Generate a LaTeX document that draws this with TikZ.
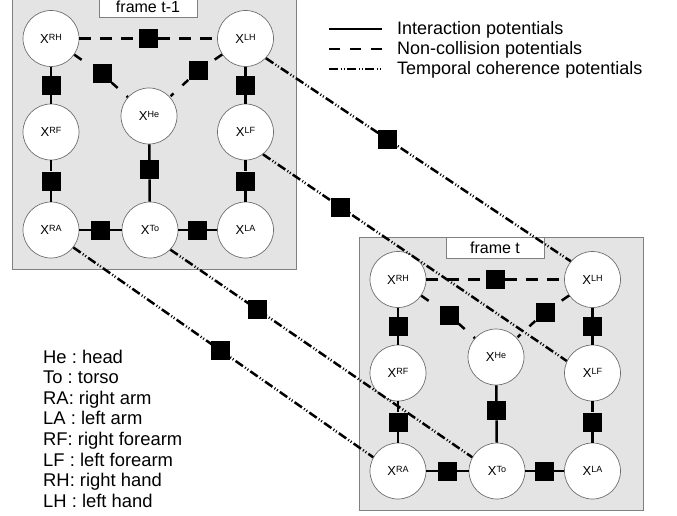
\documentclass[tikz,border=0pt]{standalone}
\usepackage{fontspec}
\setmainfont{Liberation Sans}
\usetikzlibrary{calc}
\definecolor{framefill}{HTML}{E4E4E4}
\definecolor{framedraw}{HTML}{808080}
\definecolor{varedge}{HTML}{6E6E6E}
\tikzset{
  var/.style={circle,draw=varedge,line width=0.7pt,fill=white,minimum size=56pt,
              inner sep=0pt,font=\fontsize{13}{14}\selectfont},
  factor/.style={rectangle,fill=black,minimum size=19pt,inner sep=0pt},
  framebox/.style={draw=framedraw,fill=framefill,line width=1pt},
  framelbl/.style={draw=framedraw,fill=white,line width=0.8pt,minimum width=98pt,
                   minimum height=21pt,inner sep=0pt,font=\fontsize{16}{17}\selectfont},
  inter/.style={line width=2.5pt},
  noncoll/.style={line width=2.5pt,dash pattern=on 12pt off 9pt},
  temporal/.style={line width=2.5pt,dash pattern=on 9pt off 2.5pt on 1pt off 2pt on 1pt off 2.5pt},
  stubout/.style={inter,dash pattern=on 9pt off 40pt},
  stubin/.style={inter,dash pattern=on 8pt off 12pt on 4pt off 20pt},
  legtext/.style={font=\fontsize{18}{20}\selectfont,anchor=base west,inner sep=0pt},
  keytext/.style={font=\fontsize{18.4}{20}\selectfont\frenchspacing,anchor=base west,inner sep=0pt},
}
\newcommand{\bodyvar}[1]{X\raisebox{3pt}{\fontsize{9}{10}\selectfont #1}}

\begin{document}
\begin{tikzpicture}[x=1pt,y=-1pt]
  \useasboundingbox (0,0) rectangle (677,516);

  % one frame per time step (p = t-1, c = t)
  \foreach \fr/\dx/\dy/\lbl in {p/0/0/frame t-1, c/347/241/frame t} {
    \begin{scope}[shift={(\dx,\dy)}]
      \draw[framebox] (12.5,-3.5) rectangle (296,269.5);
      \node[framelbl] (\fr lbl) at (148,7) {\lbl};

      \node[var] (\fr RH) at (51,38.5)    {\bodyvar{RH}};
      \node[var] (\fr LH) at (245.5,38.5) {\bodyvar{LH}};
      \node[var] (\fr He) at (149,116)    {\bodyvar{He}};
      \node[var] (\fr RF) at (51,132)     {\bodyvar{RF}};
      \node[var] (\fr LF) at (245.5,132)  {\bodyvar{LF}};
      \node[var] (\fr RA) at (51,230)     {\bodyvar{RA}};
      \node[var] (\fr To) at (150,230)    {\bodyvar{To}};
      \node[var] (\fr LA) at (245.5,230)  {\bodyvar{LA}};

      \node[factor] (\fr fRHLH) at ($(\fr RH)!0.5!(\fr LH)$) {};
      \node[factor] (\fr fRHRF) at ($(\fr RH)!0.5!(\fr RF)$) {};
      \node[factor] (\fr fRFRA) at ($(\fr RF)!0.5!(\fr RA)$) {};
      \node[factor] (\fr fLHLF) at ($(\fr LH)!0.5!(\fr LF)$) {};
      \node[factor] (\fr fLFLA) at ($(\fr LF)!0.5!(\fr LA)$) {};
      \node[factor] (\fr fHeTo) at ($(\fr He)!0.47!(\fr To)$) {};
      \node[factor] (\fr fRATo) at ($(\fr RA)!0.5!(\fr To)$) {};
      \node[factor] (\fr fToLA) at ($(\fr To)!0.5!(\fr LA)$) {};
      \node[factor] (\fr fRHHe) at (102,74) {};
      \node[factor] (\fr fLHHe) at (198,71) {};

      \draw[noncoll] (\fr RH) -- (\fr fRHLH) -- (\fr LH);
      \draw[inter] (\fr RH) -- (\fr fRHRF) -- (\fr RF) -- (\fr fRFRA) -- (\fr RA);
      \draw[inter] (\fr LH) -- (\fr fLHLF) -- (\fr LF) -- (\fr fLFLA) -- (\fr LA);
      \draw[inter] (\fr RA) -- (\fr fRATo) -- (\fr To) -- (\fr fToLA) -- (\fr LA);
      \draw[inter] (\fr He) -- (\fr fHeTo) -- (\fr To);
      % head links only show as short stubs
      \draw[stubout] (\fr RH) -- (\fr fRHHe);
      \draw[stubin] (\fr fRHHe) -- (\fr He);
      \draw[stubout] (\fr LH) -- (\fr fLHHe);
      \draw[stubin] (\fr fLHHe) -- (\fr He);
    \end{scope}
  }

  % temporal coherence between the two frames
  \draw[temporal] (pLH.-44) -- node[factor,pos=0.40] (tLH) {} (cLH.140);
  \draw[temporal] (pLF.-52) -- node[factor,pos=0.255] (tLF) {} (cLF.155);
  \draw[temporal] (pRA.-38) -- node[factor,pos=0.49] (tRA) {} (cRA.151);
  \draw[temporal] (pTo.-44) -- node[factor,pos=0.29] (tTo) {} (cTo.151);

  % legend
  \node[legtext] (lgInter) at (397,34.5) {Interaction potentials};
  \node[legtext] (lgNon) at (397,54.5) {Non-collision potentials};
  \node[legtext] (lgTemp) at (397,74.5) {Temporal coherence potentials};
  \draw[inter] (329,29) coordinate (kInter) -- ++(53,0) coordinate (kInterEnd);
  \draw[line width=2.5pt,dash pattern=on 11pt off 10pt] (329,49) coordinate (kNon) -- ++(53,0) coordinate (kNonEnd);
  \draw[temporal] (329,69) coordinate (kTemp) -- ++(53,0) coordinate (kTempEnd);

  % abbreviations
  \foreach \txt [count=\i] in {He : head, To : torso, RA: right arm, LA : left arm,
      RF: right forearm, LF : left forearm, RH: right hand, LH : left hand}
    \node[keytext] (key\i) at (43,{363+20.6*(\i-1)}) {\txt};
\end{tikzpicture}
\end{document}
